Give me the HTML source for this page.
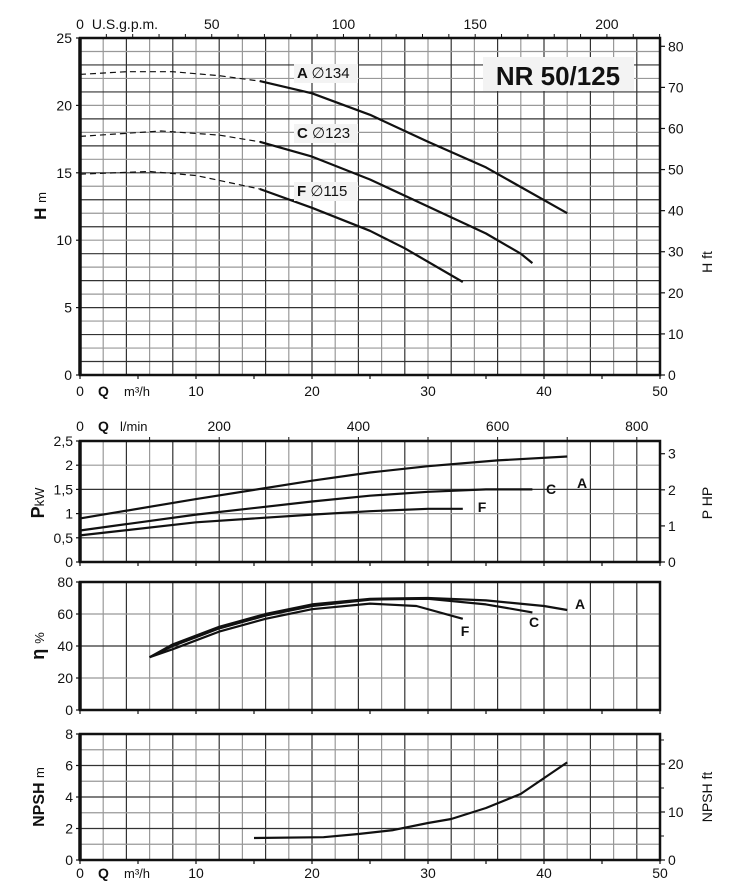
<!DOCTYPE html><html><head><style>body{margin:0;background:#fff}svg{display:block}text{font-family:"Liberation Sans",sans-serif;fill:#111}</style></head><body>
<svg id="s" width="731" height="894" viewBox="0 0 731 894"></svg>
<script>
const L=80,R=660,W=R-L;const X=q=>L+q*W/50;let o='';
function line(x1,y1,x2,y2,c,w){o+=`<line x1="${x1}" y1="${y1}" x2="${x2}" y2="${y2}" stroke="${c}" stroke-width="${w}"/>`}
function t(x,y,s,sz,a,b){o+=`<text x="${x}" y="${y}" font-size="${sz||13}" text-anchor="${a||'middle'}" ${b?'font-weight="bold"':''}>${s}</text>`}
function grid(top,bot,rows){for(let i=1;i<25;i++)line(X(2*i),top,X(2*i),bot,i%2?'#999':'#333',1.2);
 for(let j=1;j<rows;j++){const y=top+(bot-top)*j/rows;line(L,y,R,y,j%2?'#999':'#333',1.2)}
 o+=`<rect x="${L}" y="${top}" width="${W}" height="${bot-top}" fill="none" stroke="#111" stroke-width="2.5"/>`;
 line(L,top,L,bot,'#111',3.5);
 for(let i=0;i<=10;i++){line(X(5*i),bot,X(5*i),bot+4,'#111',1.2)}}
function path(pts,fy,dash,w){let d=pts.map((p,i)=>(i?'L':'M')+X(p[0]).toFixed(1)+' '+fy(p[1]).toFixed(1)).join(' ');
 o+=`<path d="${d}" fill="none" stroke="#111" ${dash?'stroke-dasharray="6,4" stroke-width="1.2"':'stroke-width="'+(w||2.2)+'"'} stroke-linejoin="round"/>`}
// H chart
const T1=38,B1=375,fH=h=>B1-(B1-T1)*h/25;
grid(T1,B1,25);
for(let h=0;h<=25;h+=5){t(72,fH(h)+5,h,14,'end');line(L-4,fH(h),L,fH(h),'#111',1.2)}
for(let f=0;f<=80;f+=10){const y=fH(f*0.3048);t(668,y+5,f,14,'start');line(R,y,R+5,y,'#111',1.2)}
for(let g=0;g<=200;g+=50){const x=X(g*0.22712);t(x,29,g,14)}
for(let g=10;g<=220;g+=10){const x=X(g*0.22712);line(x,T1-4,x,T1,'#111',1)}
t(125,29,'U.S.g.p.m.',14);
for(let q=0;q<=50;q+=10)if(q)t(X(q),396,q,14);t(X(0),396,0,14);
o+=`<text x="98" y="396" font-size="14" font-weight="bold">Q</text><text x="124" y="396" font-size="13">m³/h</text>`;
o+=`<text transform="translate(46,206) rotate(-90)" font-size="17" font-weight="bold" text-anchor="middle">H <tspan font-weight="normal" font-size="13">m</tspan></text>`;
o+=`<text transform="translate(712,262) rotate(-90)" font-size="14" text-anchor="middle">H ft</text>`;
o+=`<rect x="483" y="57" width="151" height="34" fill="#f3f3f3"/>`;t(558,85,'NR 50/125',26,'middle',1);
path([[0,22.3],[4,22.5],[8,22.5],[12,22.2],[15.5,21.8]],fH,1);path([[15.5,21.8],[20,20.9],[25,19.3],[30,17.3],[35,15.4],[42,12]],fH);
path([[0,17.7],[7,18.1],[12,17.8],[15.5,17.3]],fH,1);path([[15.5,17.3],[20,16.2],[25,14.5],[30,12.5],[35,10.5],[38,9],[39,8.3]],fH);
path([[0,14.9],[6,15.1],[10,14.8],[15.5,13.8]],fH,1);path([[15.5,13.8],[20,12.4],[25,10.7],[28,9.4],[33,6.9]],fH);
[['A','134',78],['C','123',138],['F','115',196]].forEach(([a,n,y])=>{o+=`<rect x="294" y="${y-14}" width="64" height="19" fill="#f3f3f3"/><text x="297" y="${y}" font-size="15" font-weight="bold">${a} <tspan font-weight="normal">∅${n}</tspan></text>`});
// P chart
const T2=441,B2=562,fP=p=>B2-(B2-T2)*p/2.5;grid(T2,B2,5);
['0','0,5','1','1,5','2','2,5'].forEach((s,i)=>{t(73,fP(i*0.5)+5,s,14,'end');line(L-4,fP(i*.5),L,fP(i*.5),'#111',1.2)});
for(let h=0;h<=3;h++){const y=fP(h*0.7457);t(668,y+5,h,14,'start');line(R,y,R+5,y,'#111',1.2)}
for(let l=0;l<=800;l+=200){t(X(l*0.06),431,l,14)}for(let l=100;l<=800;l+=100)line(X(l*.06),T2-4,X(l*.06),T2,'#111',1);
o+=`<text x="98" y="431" font-size="14" font-weight="bold">Q</text><text x="120" y="431" font-size="13">l/min</text>`;
o+=`<text transform="translate(44,503) rotate(-90)" font-size="18" font-weight="bold" text-anchor="middle">P<tspan font-weight="normal" font-size="13">kW</tspan></text>`;
o+=`<text transform="translate(712,503) rotate(-90)" font-size="14" text-anchor="middle">P HP</text>`;
path([[0,0.9],[10,1.3],[20,1.68],[25,1.85],[30,1.98],[36,2.1],[42,2.18]],fP);
path([[0,0.65],[10,0.98],[20,1.25],[25,1.37],[30,1.45],[35,1.5],[39,1.5]],fP);
path([[0,0.55],[10,0.82],[20,0.98],[25,1.05],[30,1.1],[33,1.1]],fP);
t(582,488,'A',14,'middle',1);t(551,494,'C',14,'middle',1);t(482,512,'F',14,'middle',1);
// eta
const T3=582,B3=710,fE=e=>B3-(B3-T3)*e/80;grid(T3,B3,4);
for(let e=0;e<=80;e+=20){t(73,fE(e)+5,e,14,'end');line(L-4,fE(e),L,fE(e),'#111',1.2)}
o+=`<text transform="translate(44,646) rotate(-90)" font-size="18" font-weight="bold" text-anchor="middle">η <tspan font-weight="normal" font-size="13">%</tspan></text>`;
path([[6,33],[8,41],[12,52],[16,60],[20,66],[25,69.5],[30,70],[35,68.5],[40,65],[42,62.5]],fE);
path([[6,33],[8,40],[12,51],[16,59],[20,65],[25,69],[30,69.5],[35,66],[39,61]],fE);
path([[6,33],[8,38],[12,49],[16,57],[20,63],[25,66.5],[29,65],[33,57]],fE);
t(580,609,'A',14,'middle',1);t(534,627,'C',14,'middle',1);t(465,636,'F',14,'middle',1);
// NPSH
const T4=734,B4=860,fN=n=>B4-(B4-T4)*n/8;grid(T4,B4,8);
for(let n=0;n<=8;n+=2){t(73,fN(n)+5,n,14,'end');line(L-4,fN(n),L,fN(n),'#111',1.2)}
for(let f=0;f<=20;f+=10){const y=fN(f*0.3048);t(668,y+5,f,14,'start');line(R,y,R+5,y,'#111',1.2)}
for(let f=5;f<=25;f+=10)line(R,fN(f*.3048),R+4,fN(f*.3048),'#111',1);
o+=`<text transform="translate(44,797) rotate(-90)" font-size="16" font-weight="bold" text-anchor="middle">NPSH <tspan font-weight="normal" font-size="13">m</tspan></text>`;
o+=`<text transform="translate(712,797) rotate(-90)" font-size="14" text-anchor="middle">NPSH ft</text>`;
path([[15,1.4],[21,1.45],[24,1.65],[27,1.9],[30,2.35],[32,2.6],[35,3.3],[38,4.2],[40,5.2],[42,6.2]],fN);
for(let q=10;q<=50;q+=10)t(X(q),878,q,14);t(X(0),878,0,14);
o+=`<text x="98" y="878" font-size="14" font-weight="bold">Q</text><text x="124" y="878" font-size="13">m³/h</text>`;
document.getElementById('s').innerHTML=o;
</script></body></html>
